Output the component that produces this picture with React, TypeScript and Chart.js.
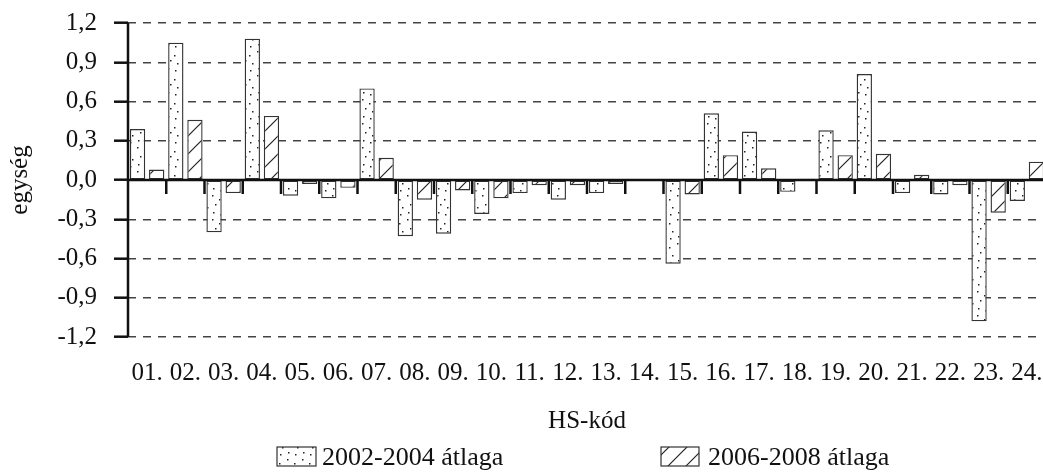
import React, { useEffect, useRef } from 'react';
import { Chart, registerables } from 'chart.js';

Chart.register(...registerables);

const categories = ['01.', '02.', '03.', '04.', '05.', '06.', '07.', '08.', '09.', '10.', '11.', '12.', '13.', '14.', '15.', '16.', '17.', '18.', '19.', '20.', '21.', '22.', '23.', '24.'];
const values2002 = [0.39, 1.05, -0.40, 1.08, -0.12, -0.14, 0.70, -0.43, -0.41, -0.26, -0.10, -0.15, -0.10, 0, -0.64, 0.51, 0.37, -0.09, 0.38, 0.81, -0.10, -0.11, -1.08, -0.16];
const values2006 = [0.08, 0.46, -0.10, 0.49, -0.03, -0.06, 0.17, -0.15, -0.08, -0.14, -0.04, -0.04, -0.03, 0, -0.11, 0.19, 0.09, 0.01, 0.19, 0.20, 0.04, -0.04, -0.25, 0.14];
const yTickValues = [-1.2, -0.9, -0.6, -0.3, 0, 0.3, 0.6, 0.9, 1.2];
const seriesNames = ['2002-2004 átlaga', '2006-2008 átlaga'];
const xAxisTitle = 'HS-kód';
const yAxisTitle = 'egység';

const FAMILY = "'Liberation Serif', 'Times New Roman', serif";
const INK = '#111';
const axisFont = { family: FAMILY, size: 25 };

function makeDotPattern(ctx: CanvasRenderingContext2D) {
  const c = document.createElement('canvas');
  c.width = 15;
  c.height = 24;
  const g = c.getContext('2d')!;
  g.fillStyle = '#fff';
  g.fillRect(0, 0, 15, 24);
  g.fillStyle = '#222';
  const dots = [[2, 3], [9, 7], [5, 12], [12, 15], [3, 20], [10, 22]];
  for (const [x, y] of dots) g.fillRect(x, y, 1.5, 1.5);
  return ctx.createPattern(c, 'repeat')!;
}

function makeHatchPattern(ctx: CanvasRenderingContext2D) {
  const s = 18;
  const c = document.createElement('canvas');
  c.width = s;
  c.height = s;
  const g = c.getContext('2d')!;
  g.fillStyle = '#fff';
  g.fillRect(0, 0, s, s);
  g.strokeStyle = '#222';
  g.lineWidth = 1.2;
  g.beginPath();
  g.moveTo(-1, s + 1);
  g.lineTo(s + 1, -1);
  g.moveTo(-1, 1);
  g.lineTo(1, -1);
  g.moveTo(s - 1, s + 1);
  g.lineTo(s + 1, s - 1);
  g.stroke();
  return ctx.createPattern(c, 'repeat')!;
}

const axesOverlay = {
  id: 'axesOverlay',
  afterDatasetsDraw(chart: any) {
    const { ctx, chartArea, scales } = chart;
    const xs = scales.x;
    const ys = scales.y;
    const y0 = ys.getPixelForValue(0);
    ctx.save();
    ctx.setLineDash([]);
    ctx.strokeStyle = INK;
    ctx.lineWidth = 2.5;
    ctx.beginPath();
    ctx.moveTo(chartArea.left, y0);
    ctx.lineTo(chartArea.right, y0);
    for (let i = 1; i < categories.length; i++) {
      const bx = (xs.getPixelForValue(i - 1) + xs.getPixelForValue(i)) / 2;
      ctx.moveTo(bx, y0);
      ctx.lineTo(bx, y0 + 14);
    }
    ctx.moveTo(chartArea.left, chartArea.top);
    ctx.lineTo(chartArea.left, chartArea.bottom);
    ctx.stroke();
    ctx.restore();
  },
};

const legendLayout = [
  { box: [277, 447, 39, 19], textX: 322 },
  { box: [661, 447, 38, 19], textX: 708 },
];

const customLegend = {
  id: 'customLegend',
  afterDraw(chart: any) {
    const { ctx } = chart;
    ctx.save();
    chart.data.datasets.forEach((ds: any, i: number) => {
      const l = legendLayout[i];
      const [bx, by, bw, bh] = l.box;
      ctx.fillStyle = ds.backgroundColor;
      ctx.fillRect(bx, by, bw, bh);
      ctx.strokeStyle = '#333';
      ctx.lineWidth = 1.2;
      ctx.strokeRect(bx, by, bw, bh);
      ctx.fillStyle = INK;
      ctx.font = `26px ${FAMILY}`;
      ctx.textBaseline = 'alphabetic';
      ctx.textAlign = 'left';
      ctx.fillText(ds.label, l.textX, 465);
    });
    ctx.restore();
  },
};

export default function App() {
  const ref = useRef<HTMLCanvasElement>(null);

  useEffect(() => {
    const canvas = ref.current!;
    const ctx = canvas.getContext('2d')!;
    const dots = makeDotPattern(ctx);
    const hatch = makeHatchPattern(ctx);

    const chart = new Chart(canvas, {
      type: 'bar',
      data: {
        labels: categories,
        datasets: [
          {
            label: seriesNames[0],
            data: values2002,
            backgroundColor: dots as any,
            borderColor: '#333',
            borderWidth: 1.4,
            borderSkipped: false,
            barPercentage: 0.8,
            categoryPercentage: 1,
          },
          {
            label: seriesNames[1],
            data: values2006,
            backgroundColor: hatch as any,
            borderColor: '#333',
            borderWidth: 1.4,
            borderSkipped: false,
            barPercentage: 0.8,
            categoryPercentage: 1,
          },
        ],
      },
      options: {
        responsive: false,
        animation: false,
        devicePixelRatio: 1,
        layout: { padding: { top: 23, bottom: 35, left: 0, right: 0 } },
        plugins: {
          legend: { display: false },
          tooltip: { enabled: false },
        },
        scales: {
          x: {
            grid: { display: false, drawTicks: false },
            border: { display: false },
            ticks: { font: axisFont, color: INK, padding: 21, maxRotation: 0, autoSkip: false },
            title: { display: true, text: xAxisTitle, font: axisFont, color: INK, padding: { top: 0, bottom: 1 } },
            afterFit: (s: any) => {
              s.height = 100;
              s.paddingLeft = 0;
              s.paddingRight = 0;
            },
          },
          y: {
            min: -1.2,
            max: 1.2,
            afterBuildTicks: (s: any) => {
              s.ticks = yTickValues.map((v) => ({ value: v }));
            },
            ticks: {
              font: axisFont,
              color: INK,
              padding: 17,
              callback: (v: any) => Number(v).toFixed(1).replace('.', ','),
            },
            grid: {
              color: '#444',
              lineWidth: 1.4,
              drawTicks: true,
              tickLength: 14,
              tickColor: INK,
              tickWidth: 2.5,
            },
            border: { display: false, dash: [8, 7] },
            title: { display: true, text: yAxisTitle, font: axisFont, color: INK, padding: { top: 5, bottom: 0 } },
            afterFit: (s: any) => {
              s.width = 128;
              s.paddingTop = 0;
              s.paddingBottom = 0;
            },
          },
        },
      },
      plugins: [axesOverlay, customLegend],
    });

    return () => chart.destroy();
  }, []);

  return (
    <div style={{ position: 'absolute', left: 0, top: 0, width: 1043, height: 472, overflow: 'hidden', background: '#fff' }}>
      <canvas ref={ref} width={1046} height={472} style={{ display: 'block' }} />
    </div>
  );
}
